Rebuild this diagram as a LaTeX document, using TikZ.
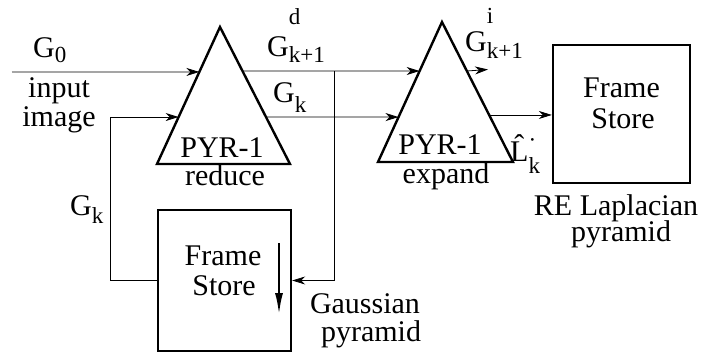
\documentclass[tikz,border=0pt]{standalone}
\usepackage{fontspec}
\setmainfont{Liberation Serif}
\usetikzlibrary{arrows.meta,calc}
\newcommand{\lowr}[2]{\raisebox{-#1pt}{\fontsize{23}{23}\selectfont #2}}
\newcommand{\upr}[2]{\raisebox{#1pt}{\fontsize{23}{23}\selectfont #2}}
\begin{document}
\begin{tikzpicture}[x=1pt,y=-1pt, font=\rmfamily\fontsize{30}{32}\selectfont,
  conn/.style={line width=0.8pt, -{Stealth[length=13pt,width=8pt,inset=4pt]}},
  blk/.style={line width=2.4pt, line join=miter},
  fsbox/.style={blk, draw, inner sep=0pt},
  lbl/.style={inner sep=0pt, anchor=base}]
\useasboundingbox (0,0) rectangle (707,354);
% triangles
\coordinate (t1a) at (220,27); \coordinate (t1l) at (157,164); \coordinate (t1r) at (290,164);
\coordinate (t2a) at (442,22); \coordinate (t2l) at (378,162); \coordinate (t2r) at (513,162);
\draw[blk] (t1a) -- (t1l) -- (t1r) -- cycle;
\draw[blk] (t2a) -- (t2l) -- (t2r) -- cycle;
% frame stores
\node[fsbox, minimum width=133pt, minimum height=141pt] (fs1) at (224.5,280.5) {};
\node[fsbox, minimum width=137pt, minimum height=138pt] (fs2) at (621.5,114) {};
% connectors
\coordinate (src) at (12,72);
\draw[conn] (src) -- ($(t1a)!0.328!(t1l)$);
\draw[conn] (fs1.west) -- ++(-46,0) |- ($(t1a)!0.657!(t1l)$);
\coordinate (o1a) at ($(t1a)!0.321!(t1r)$);
\draw[conn] (o1a) -- ($(t2a)!0.35!(t2l)$);
\coordinate (br) at (334,71);
\draw[conn] (br) |- (fs1.east);
\draw[conn] ($(t1a)!0.657!(t1r)$) -- ($(t2a)!0.679!(t2l)$);
\coordinate (gi) at (488,69.5);
\draw[conn] ($(t2a)!0.35!(t2r)$) -- (gi);
\coordinate (o2) at ($(t2a)!0.664!(t2r)$);
\draw[conn] (o2) -- (o2 -| fs2.west);
% inner arrow
\coordinate (da) at (279,243); \coordinate (db) at (279,315);
\draw[line width=2.4pt, -{Latex[length=22pt,width=8pt]}] (da) -- (db);
% labels
\node[lbl, anchor=base west] (g0) at (33,57) {G\lowr{5}{0}};
\node[lbl] (inp) at (59,97) {input};
\node[lbl] (img) at (59,126) {image};
\node[lbl, anchor=base west] (gd) at (267,56) {G\rlap{\upr{32}{d}}\lowr{6}{k+1}};
\node[lbl, anchor=base west] (gk1) at (273,102) {G\lowr{10}{k}};
\node[lbl] (p1) at (222,157) {PYR-1};
\node[lbl] (red) at (225,185) {reduce};
\node[lbl, anchor=base west] (gk2) at (70,215) {G\lowr{8}{k}};
\node[lbl] (f1a) at (223,265) {Frame};
\node[lbl] (f1b) at (224,295) {Store};
\node[lbl] (gau) at (365,313) {Gaussian};
\node[lbl] (gpy) at (371,341) {pyramid};
\node[lbl, anchor=base west] (gi2) at (465,51) {G\rlap{\upr{28}{i}}\lowr{7}{k+1}};
\node[lbl] (p2) at (440,154) {PYR-1};
\node[lbl] (exp) at (446,183) {expand};
\node[lbl, anchor=base west] (lk) at (510,161) {\^{L}\rlap{\upr{14}{·}}\lowr{12}{k}};
\node[lbl] (f2a) at (621.5,97) {Frame};
\node[lbl] (f2b) at (623,128) {Store};
\node[lbl] (rel) at (616,215) {RE Laplacian};
\node[lbl] (rpy) at (621,241) {pyramid};
\end{tikzpicture}
\end{document}
